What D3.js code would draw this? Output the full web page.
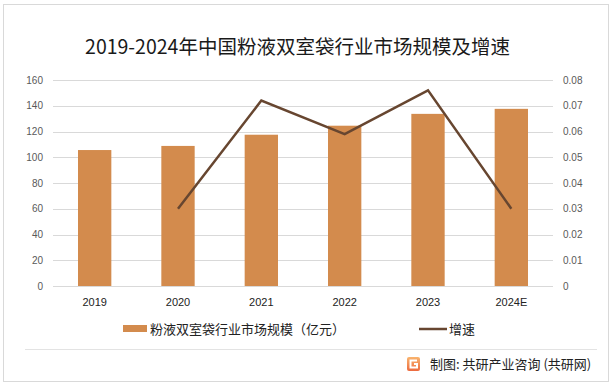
<!DOCTYPE html>
<html><head><meta charset="utf-8">
<script src="https://cdn.jsdelivr.net/npm/d3@7"></script>
<style>body{margin:0;background:#fff;}svg{display:block;font-family:"Noto Sans CJK SC","Noto Sans",sans-serif;}</style>
</head><body>
<svg id="c" width="614" height="387"></svg>
<script>
const categories = ["2019","2020","2021","2022","2023","2024E"];
const marketSize = [105.6, 108.8, 117.5, 124.5, 133.7, 137.6];
const growth = [null, 0.030, 0.072, 0.059, 0.076, 0.030];
const leftTicks = [0,20,40,60,80,100,120,140,160];
const rightTicks = [0,0.01,0.02,0.03,0.04,0.05,0.06,0.07,0.08];
const title = "2019-2024年中国粉液双室袋行业市场规模及增速";
const barName = "粉液双室袋行业市场规模（亿元）";
const lineName = "增速";
const source = "制图: 共研产业咨询 (共研网)";

const svg = d3.select("#c");
const barColor = "#D38B4D", lineColor = "#674630", textColor = "#595959";

svg.append("rect").attr("x",3.5).attr("y",4.5).attr("width",605).attr("height",377)
  .attr("fill","#fff").attr("stroke","#D9D9D9");
svg.append("line").attr("x1",25).attr("x2",597).attr("y1",349.5).attr("y2",349.5).attr("stroke","#E3E3E3");

svg.append("text").attr("x",297.5).attr("y",54).attr("text-anchor","middle")
  .attr("font-size",19.5).attr("fill","#1a1a1a").text(title);

const x = d3.scaleBand().domain(categories).range([53,553]).paddingInner(0.6).paddingOuter(0.3);
const y = d3.scaleLinear().domain([0,160]).range([286,80]);
const y2 = d3.scaleLinear().domain([0,0.08]).range([286,80]);

const gGrid = svg.append("g");
leftTicks.forEach(t=>{
  gGrid.append("line").attr("x1",53).attr("x2",553).attr("y1",Math.round(y(t))+0.5).attr("y2",Math.round(y(t))+0.5)
    .attr("stroke","#D9D9D9").attr("stroke-width",1);
});

const yAxisL = d3.axisLeft(y).tickValues(leftTicks).tickSize(0).tickPadding(10);
const gL = svg.append("g").attr("transform","translate(53,0)").call(yAxisL);
gL.select(".domain").remove();
gL.selectAll("text").attr("font-size",10).attr("fill",textColor).attr("font-family","Liberation Sans, Arial, sans-serif");

const yAxisR = d3.axisRight(y2).tickValues(rightTicks).tickSize(0).tickPadding(10)
  .tickFormat(d=> d===0 ? "0" : d3.format(".2f")(d));
const gR = svg.append("g").attr("transform","translate(553,0)").call(yAxisR);
gR.select(".domain").remove();
gR.selectAll("text").attr("font-size",10).attr("fill",textColor).attr("font-family","Liberation Sans, Arial, sans-serif");

svg.append("g").selectAll("rect").data(categories).join("rect")
  .attr("x",d=>x(d)).attr("width",x.bandwidth())
  .attr("y",(d,i)=>y(marketSize[i])).attr("height",(d,i)=>y(0)-y(marketSize[i]))
  .attr("fill",barColor);

const xAxis = d3.axisBottom(x).tickSize(0).tickPadding(12);
const gX = svg.append("g").attr("transform","translate(0,286)").call(xAxis);
gX.select(".domain").remove();
gX.selectAll("text").attr("font-size",11).attr("fill","#222").attr("font-family","Liberation Sans, Arial, sans-serif");

const pts = categories.map((c,i)=>({c,v:growth[i]})).filter(d=>d.v!==null);
const line = d3.line().x(d=>x(d.c)+x.bandwidth()/2).y(d=>y2(d.v));
svg.append("path").datum(pts).attr("d",line).attr("fill","none")
  .attr("stroke",lineColor).attr("stroke-width",2.5).attr("stroke-linejoin","miter");

// legend
svg.append("rect").attr("x",123).attr("y",325).attr("width",24).attr("height",7).attr("fill",barColor);
svg.append("text").attr("x",150).attr("y",334).attr("font-size",13).attr("fill","#222").text(barName);
svg.append("line").attr("x1",419).attr("x2",447).attr("y1",329).attr("y2",329).attr("stroke",lineColor).attr("stroke-width",2.5);
svg.append("text").attr("x",449).attr("y",334).attr("font-size",13).attr("fill","#222").text(lineName);

// source logo
const defs = svg.append("defs");
const grad = defs.append("linearGradient").attr("id","lg").attr("x1",0).attr("y1",0).attr("x2",0).attr("y2",1);
grad.append("stop").attr("offset","0%").attr("stop-color","#F9B46E");
grad.append("stop").attr("offset","100%").attr("stop-color","#EC6A3F");
svg.append("rect").attr("x",407).attr("y",357).attr("width",13).attr("height",14).attr("rx",2).attr("fill","url(#lg)");
svg.append("path").attr("d","M417 360.5 H410.5 V367.5 H417 V364 H414").attr("fill","none").attr("stroke","#fff").attr("stroke-width",2);
svg.append("text").attr("x",430).attr("y",368.5).attr("font-size",13).attr("fill","#222").text(source);
</script>
</body></html>
